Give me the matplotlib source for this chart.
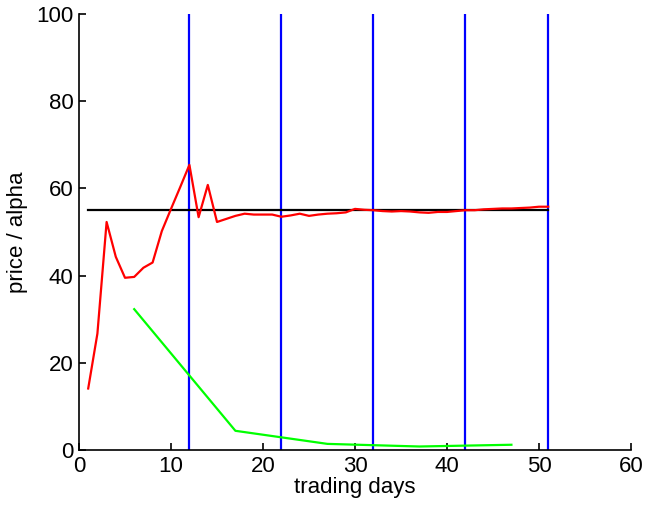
import matplotlib
matplotlib.use("Agg")
import matplotlib.pyplot as plt
import numpy as np

# price path, one value per trading day (day 1..51)
price_days = np.arange(1, 52)
price = [14.1, 26.7, 52.3, 44.3, 39.5, 39.7, 41.8, 43.0, 50.2, 55.3,
         60.3, 65.4, 53.4, 60.8, 52.3, 53.0, 53.7, 54.2, 54.0, 54.0,
         54.0, 53.5, 53.8, 54.2, 53.7, 54.0, 54.2, 54.3, 54.5, 55.3,
         55.1, 55.0, 54.8, 54.7, 54.8, 54.7, 54.5, 54.4, 54.6, 54.6,
         54.8, 55.0, 55.0, 55.2, 55.3, 55.4, 55.4, 55.5, 55.6, 55.8, 55.8]

# alpha estimate
alpha_days = [6, 17, 22, 27, 32, 37, 42, 47]
alpha = [32.3, 4.4, 2.9, 1.4, 1.1, 0.8, 1.0, 1.2]

# equilibrium price level and rebalance days
eq_price = 55
eq_span = [1, 51]
rebalance_days = [12, 22, 32, 42, 51]

plt.rcParams['font.family'] = ['Liberation Sans', 'DejaVu Sans']

fig = plt.figure(figsize=(6.46, 5.08), dpi=100)
ax = fig.add_axes([0.1223, 0.1142, 0.8545, 0.8582])

for d in rebalance_days:
    ax.plot([d, d], [0, 100], color=(0, 0, 1), linewidth=1.6)
ax.plot(eq_span, [eq_price, eq_price], color='black', linewidth=1.6)
ax.plot(price_days, price, color=(1, 0, 0), linewidth=1.6)
ax.plot(alpha_days, alpha, color=(0, 1, 0), linewidth=1.6)

ax.set_xlim(0, 60)
ax.set_ylim(0, 100)
ax.set_xticks(range(0, 61, 10))
ax.set_yticks(range(0, 101, 20))
ax.spines['top'].set_visible(False)
ax.spines['right'].set_visible(False)
for s in ('left', 'bottom'):
    ax.spines[s].set_linewidth(1.2)
ax.tick_params(direction='in', length=5, width=1.2, labelsize=16, pad=4)
ax.set_xlabel('trading days', fontsize=16, labelpad=0)
ax.set_ylabel('price / alpha', fontsize=16, labelpad=6)

fig.savefig('out.png', dpi=100)
